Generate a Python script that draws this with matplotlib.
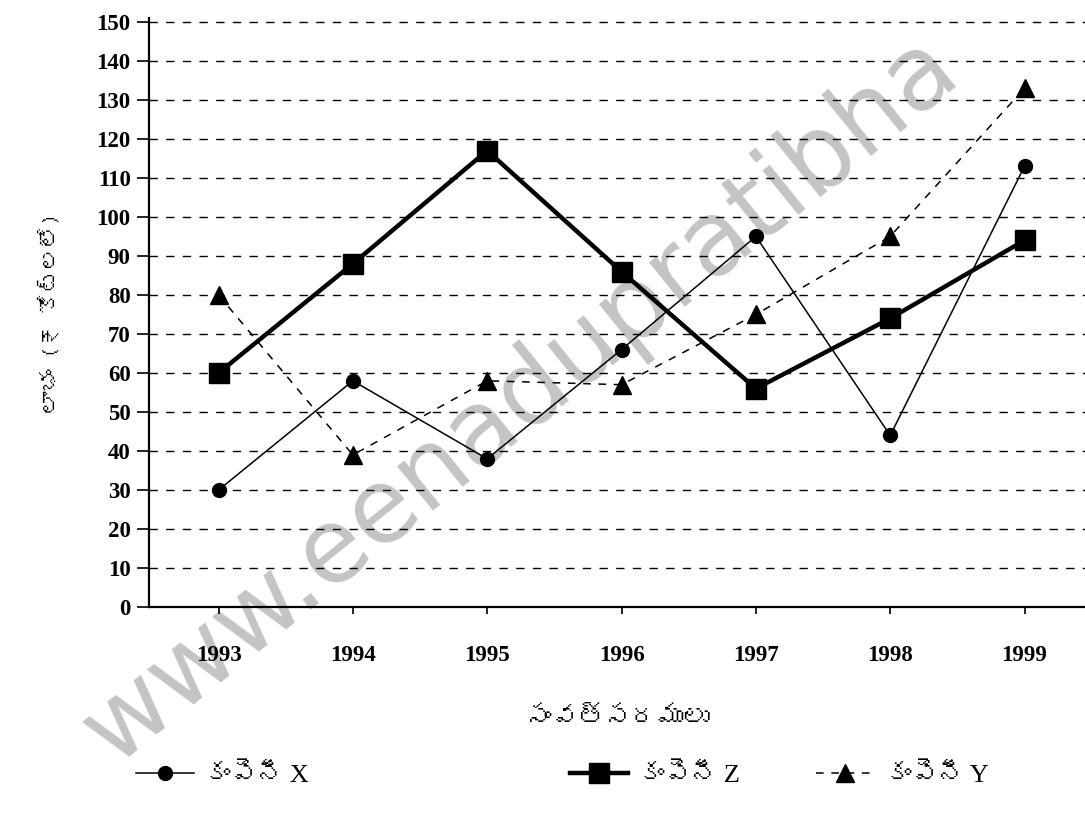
#Line chart of three companies over the years (Telugu labels)
import numpy as np
import matplotlib
matplotlib.use('Agg')
import matplotlib.pyplot as plt
from matplotlib import font_manager
from matplotlib.ft2font import FT2Font

years = [1993, 1994, 1995, 1996, 1997, 1998, 1999]
comp_x = [30, 58, 38, 66, 95, 44, 113]
comp_z = [60, 88, 117, 86, 56, 74, 94]
comp_y = [80, 39, 58, 57, 75, 95, 133]
yticks = list(range(0, 151, 10))

lab_x = 'కంపెనీ X'
lab_z = 'కంపెనీ Z'
lab_y = 'కంపెనీ Y'
xlab = 'సంవత్సరములు'
ylab = 'లాభం (₹ కోట్లలో)'

#look for any installed font that has Telugu glyphs
def find_telugu():
    for f in font_manager.fontManager.ttflist:
        try:
            if 0x0C15 in FT2Font(f.fname).get_charmap():
                return f.name
        except Exception:
            pass
    return None

tel = find_telugu()
tfam = [tel, 'DejaVu Sans'] if tel else ['DejaVu Sans']
lfam = ['Liberation Serif', tel, 'DejaVu Sans'] if tel else ['Liberation Serif', 'DejaVu Sans']
num_font = dict(family='Liberation Serif', weight='bold', size=16.5)

fig = plt.figure(figsize=(10.85, 8.16), dpi=100)

#watermark, behind the axes
fig.text(0.48, 0.51, 'www.eenadupratibha', fontsize=74, color='#c4c4c4',
         rotation=39, ha='center', va='center', family='DejaVu Sans', zorder=-1)

ax = fig.add_axes([0.137, 0.256, 0.863, 0.722])
ax.patch.set_visible(False)

lx, = ax.plot(years, comp_x, '-', color='black', lw=1.1, marker='o', ms=10, label=lab_x, zorder=4)
lz, = ax.plot(years, comp_z, '-', color='black', lw=3.2, marker='s', ms=15, label=lab_z, zorder=5)
ly, = ax.plot(years, comp_y, '--', color='black', lw=1.1, marker='^', ms=13, dashes=(5, 5), label=lab_y, zorder=3)

ax.set_xlim(1992.48, 1999.45)
ax.set_ylim(0, 151)
ax.set_yticks(yticks)
ax.set_xticks(years)
ax.set_yticklabels([str(v) for v in yticks], fontdict=num_font)
ax.set_xticklabels([str(v) for v in years], fontdict=num_font)
ax.tick_params(axis='y', direction='out', length=9, width=1.2, pad=4)
ax.tick_params(axis='x', direction='out', length=5, width=1.2, pad=22)

ax.yaxis.grid(True, linestyle=(0, (6, 6)), color='black', lw=1.0)
ax.set_axisbelow(True)
for s in ['top', 'right']:
    ax.spines[s].set_visible(False)
ax.spines['left'].set_linewidth(1.6)
ax.spines['bottom'].set_linewidth(1.6)

ax.set_xlabel(xlab, family=tfam, fontsize=19, labelpad=30)
ax.set_ylabel(ylab, family=tfam, fontsize=16, labelpad=26)

#one legend per entry, spaced like the printed key
lprop = font_manager.FontProperties(family=lfam, size=19)
for h, l, xpos in [(lx, lab_x, 0.125), (lz, lab_z, 0.525), (ly, lab_y, 0.752)]:
    fig.legend([h], [l], loc='center left', bbox_to_anchor=(xpos, 0.05), frameon=False,
               handlelength=2.2, handletextpad=0.4, borderpad=0, borderaxespad=0, prop=lprop)

fig.savefig('out.png', dpi=100)
